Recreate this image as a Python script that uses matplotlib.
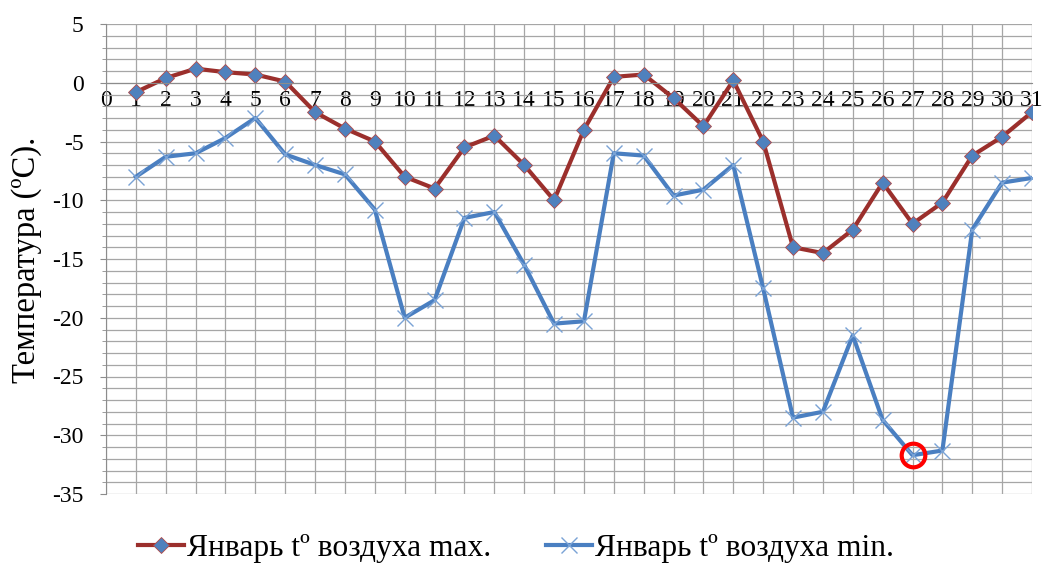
import numpy as np
import matplotlib
matplotlib.use('Agg')
import matplotlib.pyplot as plt
from matplotlib.ticker import MultipleLocator

# days of January and daily air temperatures
days = list(range(1, 32))
t_max = [-0.8, 0.4, 1.2, 0.9, 0.7, 0.1, -2.5, -3.9, -5.0, -8.0,
         -9.0, -5.5, -4.5, -7.0, -10.0, -4.0, 0.5, 0.7, -1.3, -3.7,
         0.2, -5.0, -14.0, -14.5, -12.5, -8.5, -12.0, -10.2, -6.2, -4.6,
         -2.5]
t_min = [-8.0, -6.3, -6.0, -4.7, -3.0, -6.1, -7.0, -7.8, -10.8, -20.0,
         -18.5, -11.5, -11.0, -15.5, -20.5, -20.3, -6.0, -6.2, -9.6, -9.1,
         -7.0, -17.5, -28.5, -28.0, -21.5, -28.7, -31.7, -31.3, -12.5, -8.5,
         -8.1]
label_max = 'Январь tº воздуха max.'
label_min = 'Январь tº воздуха min.'
y_label = 'Температура (ºС).'
# the coldest day is circled
coldest_day = days[int(np.argmin(t_min))]
coldest_val = min(t_min)

plt.rcParams['font.family'] = ['Liberation Serif', 'DejaVu Serif']
plt.rcParams['axes.unicode_minus'] = False

fig = plt.figure(figsize=(10.42, 5.67), dpi=100)
ax = fig.add_axes([106 / 1042, 1 - 494 / 567, 926 / 1042, 470 / 567])

ax.set_xlim(0, 31)
ax.set_ylim(-35, 5)

ax.xaxis.set_major_locator(MultipleLocator(1))
ax.yaxis.set_major_locator(MultipleLocator(5))
ax.yaxis.set_minor_locator(MultipleLocator(1))
ax.grid(True, which='both', color='#a6a6a6', lw=0.9)
ax.set_axisbelow(True)

for s in ['top', 'right']:
    ax.spines[s].set_visible(False)
ax.spines['bottom'].set_position(('data', 0))
ax.spines['bottom'].set_color('#8c8c8c')
ax.spines['left'].set_color('#8c8c8c')

ax.tick_params(axis='x', length=0, pad=5, labelsize=17)
ax.tick_params(axis='y', which='major', length=4, color='#8c8c8c', pad=12, labelsize=17)
ax.tick_params(axis='y', which='minor', length=3, color='#8c8c8c')
ax.set_xticks(range(0, 32))

ax.plot(days, t_max, color='#9b2f2c', lw=3, marker='D', ms=8,
        mfc='#4f81bd', mec='#b24a48', mew=0.6, label=label_max)
ax.plot(days, t_min, color='#4a7fc1', lw=3, marker='x', ms=11,
        mec='#7aa3d6', mew=1.0, label=label_min)

ax.plot([coldest_day], [coldest_val], marker='o', ms=17, mfc='none',
        mec='#ff0000', mew=3, ls='none')

fig.text(27 / 1042, 1 - 260 / 567, y_label, rotation=90, fontsize=23.5,
         ha='center', va='center')

fig.legend(loc='center', bbox_to_anchor=(516 / 1042, 19 / 567), ncol=2,
           frameon=False, fontsize=22.7, handlelength=1.45, handletextpad=0.1,
           columnspacing=1.75, borderaxespad=0)

fig.savefig('out.png', dpi=100)
